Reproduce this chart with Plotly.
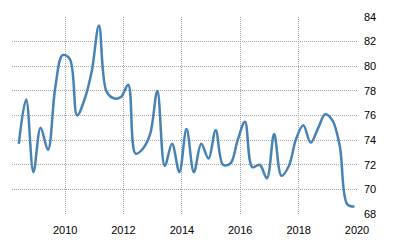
import plotly.graph_objects as go

dates = [
    "2008-05-31", "2008-08-31", "2008-11-30",
    "2009-02-28", "2009-05-31", "2009-08-31", "2009-11-30",
    "2010-02-28", "2010-05-31", "2010-08-31", "2010-11-30",
    "2011-02-28", "2011-05-31", "2011-08-31", "2011-11-30",
    "2012-02-29", "2012-05-31", "2012-08-31", "2012-11-30",
    "2013-02-28", "2013-05-31", "2013-08-31", "2013-11-30",
    "2014-02-28", "2014-05-31", "2014-08-31", "2014-11-30",
    "2015-02-28", "2015-05-31", "2015-08-31", "2015-11-30",
    "2016-02-29", "2016-05-31", "2016-08-31", "2016-11-30",
    "2017-02-28", "2017-05-31", "2017-08-31", "2017-11-30",
    "2018-02-28", "2018-05-31", "2018-08-31", "2018-11-30",
    "2019-02-28", "2019-05-31", "2019-08-31", "2019-11-30",
]
values = [
    73.7, 77.3, 71.4,
    75.0, 73.2, 78.3, 80.9,
    80.6, 76.0, 77.3, 79.6,
    83.3, 78.0, 77.4, 77.5,
    78.5, 72.9, 73.3, 74.5,
    78.0, 71.9, 73.7, 71.4,
    74.9, 71.4, 73.7, 72.5,
    74.8, 72.0, 72.1, 74.0,
    75.5, 71.8, 72.0, 70.9,
    74.5, 71.1, 71.9, 74.1,
    75.2, 73.8, 74.95, 76.1,
    75.6, 73.5, 68.8, 68.6,
]
x_ticks = ["2010-01-01", "2012-01-01", "2014-01-01", "2016-01-01", "2018-01-01", "2020-01-01"]
x_labels = ["2010", "2012", "2014", "2016", "2018", "2020"]
y_ticks = [68, 70, 72, 74, 76, 78, 80, 82, 84]

fig = go.Figure()
fig.add_trace(go.Scatter(
    x=dates, y=values, mode="lines",
    line=dict(color="#4682b4", width=2.5, shape="spline", smoothing=1.0),
    hoverinfo="skip",
))

font = dict(family="Liberation Sans, Arial, sans-serif", size=11, color="#000")
fig.update_layout(
    width=400, height=250,
    margin=dict(l=12, r=43, t=17, b=36),
    paper_bgcolor="white", plot_bgcolor="white",
    showlegend=False,
    font=font,
    xaxis=dict(
        type="date",
        range=["2008-03-07", "2020-01-01"],
        tickvals=x_ticks, ticktext=x_labels,
        showgrid=True, gridcolor="#a8a8a8", griddash="1px,1px", gridwidth=1,
        zeroline=False, showline=False, ticks="",
        ticklabelstandoff=8,
    ),
    yaxis=dict(
        side="right",
        range=[68, 84],
        tickvals=y_ticks,
        showgrid=True, gridcolor="#a8a8a8", griddash="1px,1px", gridwidth=1,
        zeroline=False, showline=False, ticks="",
        ticklabelstandoff=6,
    ),
)
fig.write_html("out.html")
